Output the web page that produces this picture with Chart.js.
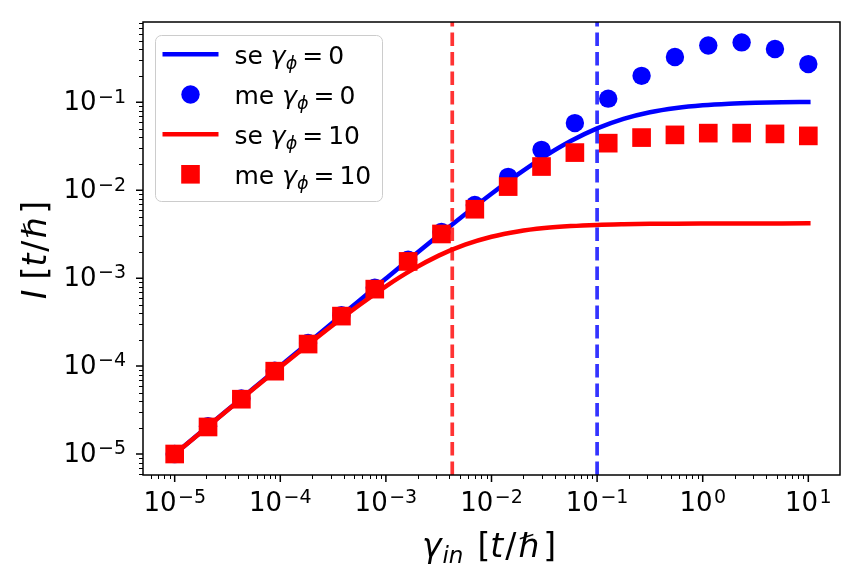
<!DOCTYPE html>
<html><head><meta charset="utf-8">
<script src="https://cdn.jsdelivr.net/npm/chart.js@4.4.1/dist/chart.umd.min.js"></script>
<style>html,body{margin:0;padding:0;background:#fff;} #wrap{width:863px;height:580px;position:relative;}</style>
</head><body><div id="wrap"><canvas id="c" width="863" height="580"></canvas></div>
<script>
// ---- data ----
const X_ME = [1.0e-5, 2.069e-5, 4.281e-5, 8.859e-5, 1.833e-4, 3.793e-4, 7.848e-4, 1.624e-3, 3.360e-3, 6.952e-3,
              1.438e-2, 2.976e-2, 6.158e-2, 0.1274, 0.2637, 0.5456, 1.129, 2.336, 4.833, 10.0];
const ME_G0 = [1.0e-5, 2.07e-5, 4.28e-5, 8.85e-5, 1.83e-4, 3.79e-4, 7.8e-4, 1.62e-3, 3.35e-3, 6.8e-3,
               1.42e-2, 2.88e-2, 5.8e-2, 0.110, 0.200, 0.327, 0.443, 0.480, 0.404, 0.272];
const ME_G10 = [1.0e-5, 2.03e-5, 4.2e-5, 8.75e-5, 1.78e-4, 3.7e-4, 7.5e-4, 1.55e-3, 3.18e-3, 6.08e-3,
                1.10e-2, 1.86e-2, 2.68e-2, 3.43e-2, 3.97e-2, 4.26e-2, 4.46e-2, 4.46e-2, 4.37e-2, 4.15e-2];
const X_SE = [1e-5, 1.778e-5, 3.162e-5, 5.623e-5, 1e-4, 1.778e-4, 3.162e-4, 5.623e-4, 1e-3, 1.778e-3,
              3.162e-3, 5.623e-3, 1e-2, 1.778e-2, 3.162e-2, 5.623e-2, 0.1, 0.1778, 0.3162, 0.5623,
              1, 1.778, 3.162, 5.623, 10];
const SE_G0 = [1.0e-5, 1.778e-5, 3.161e-5, 5.62e-5, 9.99e-5, 1.775e-4, 3.152e-4, 5.59e-4, 9.90e-4, 1.748e-3,
               3.069e-3, 5.33e-3, 9.11e-3, 1.514e-2, 2.414e-2, 3.625e-2, 5.05e-2, 6.48e-2, 7.72e-2, 8.63e-2,
               9.26e-2, 9.65e-2, 9.88e-2, 1.002e-1, 1.010e-1];
const SE_G10 = [9.98e-6, 1.77e-5, 3.14e-5, 5.55e-5, 9.77e-5, 1.706e-4, 2.94e-4, 4.96e-4, 8.08e-4, 1.249e-3,
                1.804e-3, 2.404e-3, 2.958e-3, 3.398e-3, 3.708e-3, 3.908e-3, 4.031e-3, 4.10e-3, 4.145e-3, 4.17e-3,
                4.18e-3, 4.19e-3, 4.195e-3, 4.197e-3, 4.198e-3];
const VLINE_X = [4.25e-3, 0.1];           // red dashed, blue dashed
const LABELS = ['se γϕ = 0', 'me γϕ = 0', 'se γϕ = 10', 'me γϕ = 10'];
const X_MAJOR = [1e-5, 1e-4, 1e-3, 1e-2, 1e-1, 1e0, 1e1];
const Y_MAJOR = [1e-5, 1e-4, 1e-3, 1e-2, 1e-1];
const X_TICK_EXP = ['−5', '−4', '−3', '−2', '−1', '0', '1'];
const Y_TICK_EXP = ['−5', '−4', '−3', '−2', '−1'];
const X_LIM = [Math.pow(10, -5.3), Math.pow(10, 1.3)];
const Y_LIM = [5.77e-6, 0.819];

const BLUE = '#0000ff', RED = '#ff0000';
const FONT = 'DejaVu Sans';
const pts = (xs, ys) => xs.map((x, i) => ({x, y: ys[i]}));
const minors = (lo, hi) => { const out = []; for (let e = -7; e <= 2; e++) for (let m = 2; m <= 9; m++) { const v = m * Math.pow(10, e); if (v > lo && v < hi) out.push(v); } return out; };

function richWidth(ctx, pieces) {
  let w = 0;
  pieces.forEach(p => { ctx.font = p.f; p.w = ctx.measureText(p.t).width + (p.gap || 0); w += p.w; });
  return w;
}
function drawRich(ctx, pieces, x, y, align) {
  const w = richWidth(ctx, pieces);
  let cx = align === 'right' ? x - w : (align === 'left' ? x : x - w / 2);
  pieces.forEach(p => { ctx.font = p.f; ctx.fillText(p.t, cx, y + (p.dy || 0)); cx += p.w; });
}
const tickPieces = exp => [
  {t: '10', f: `26px ${FONT}`, gap: 1.5},
  {t: exp, f: `19px ${FONT}`, dy: -7.7}
];

const decor = {
  id: 'decor',
  afterDatasetsDraw(chart) {
    const ctx = chart.ctx, a = chart.chartArea, sx = chart.scales.x, sy = chart.scales.y;
    ctx.save();
    ctx.strokeStyle = '#000';
    // minor ticks
    ctx.lineWidth = 1;
    ctx.beginPath();
    minors(X_LIM[0], X_LIM[1]).forEach(v => { const px = Math.round(sx.getPixelForValue(v)) + 0.5; ctx.moveTo(px, a.bottom); ctx.lineTo(px, a.bottom + 4); });
    minors(Y_LIM[0], Y_LIM[1]).forEach(v => { const py = Math.round(sy.getPixelForValue(v)) + 0.5; ctx.moveTo(a.left, py); ctx.lineTo(a.left - 4, py); });
    ctx.stroke();
    // major ticks
    ctx.lineWidth = 1.5;
    ctx.beginPath();
    X_MAJOR.forEach(v => { const px = sx.getPixelForValue(v); ctx.moveTo(px, a.bottom); ctx.lineTo(px, a.bottom + 7); });
    Y_MAJOR.forEach(v => { const py = sy.getPixelForValue(v); ctx.moveTo(a.left, py); ctx.lineTo(a.left - 7, py); });
    ctx.stroke();
    // frame
    ctx.strokeRect(a.left, a.top, a.right - a.left, a.bottom - a.top);
    // tick labels
    ctx.fillStyle = '#000'; ctx.textBaseline = 'alphabetic';
    X_MAJOR.forEach((v, i) => drawRich(ctx, tickPieces(X_TICK_EXP[i]), sx.getPixelForValue(v), a.bottom + 36, 'center'));
    Y_MAJOR.forEach((v, i) => drawRich(ctx, tickPieces(Y_TICK_EXP[i]), a.left - 17, sy.getPixelForValue(v) + 8, 'right'));
    ctx.restore();
  },
  afterDraw(chart) {
    const ctx = chart.ctx;
    ctx.save();
    ctx.fillStyle = '#000'; ctx.textBaseline = 'alphabetic';
    const S = 33;
    // x title
    drawRich(ctx, [
      {t: 'γ', f: `italic ${S}px ${FONT}`, gap: 1},
      {t: 'in', f: `italic 23px ${FONT}`, dy: 6, gap: 14},
      {t: '[', f: `${S}px ${FONT}`},
      {t: 't', f: `italic ${S}px ${FONT}`, gap: 2},
      {t: '/', f: `${S}px ${FONT}`, gap: 2},
      {t: 'ℏ', f: `${S}px ${FONT}`, gap: 4},
      {t: ']', f: `${S}px ${FONT}`}
    ], 489, 557, 'center');
    // y title
    ctx.save();
    ctx.translate(46, 250);
    ctx.rotate(-Math.PI / 2);
    drawRich(ctx, [
      {t: 'I', f: `italic ${S}px ${FONT}`, gap: 10},
      {t: '[', f: `${S}px ${FONT}`},
      {t: 't', f: `italic ${S}px ${FONT}`, gap: 2},
      {t: '/', f: `${S}px ${FONT}`, gap: 2},
      {t: 'ℏ', f: `${S}px ${FONT}`, gap: 4},
      {t: ']', f: `${S}px ${FONT}`}
    ], 0, 0, 'center');
    ctx.restore();
    // legend
    ctx.beginPath();
    ctx.roundRect(155.5, 35.5, 227, 166, 6);
    ctx.fillStyle = 'rgba(255,255,255,0.8)'; ctx.fill();
    ctx.strokeStyle = '#cccccc'; ctx.lineWidth = 1; ctx.stroke();
    const rows = [54.3, 94.5, 134.3, 174.3];
    const ds = chart.data.datasets;
    for (let i = 0; i < 4; i++) {
      const y = rows[i], d = ds[i];
      if (i % 2 === 0) {
        ctx.strokeStyle = d.borderColor; ctx.lineWidth = 4.5; ctx.lineCap = 'butt';
        ctx.beginPath(); ctx.moveTo(162.5, y); ctx.lineTo(218.5, y); ctx.stroke();
      } else if (i === 1) {
        ctx.fillStyle = d.backgroundColor; ctx.beginPath(); ctx.arc(190.5, y, 9.2, 0, Math.PI * 2); ctx.fill();
      } else {
        ctx.fillStyle = d.backgroundColor; ctx.fillRect(190.5 - 9.3, y - 9.3, 18.6, 18.6);
      }
      const parts = LABELS[i].split(' ');   // ['se','γϕ','=','0']
      ctx.fillStyle = '#000';
      drawRich(ctx, [
        {t: parts[0] + ' ', f: `25px ${FONT}`},
        {t: 'γ', f: `italic 25px ${FONT}`},
        {t: 'ϕ', f: `italic 17.5px ${FONT}`, dy: 5, gap: 5},
        {t: '=', f: `25px ${FONT}`, gap: 5},
        {t: parts[3], f: `25px ${FONT}`}
      ], 234.5, y + 9.5, 'left');
    }
    ctx.restore();
  }
};

new Chart(document.getElementById('c'), {
  type: 'scatter',
  data: {
    datasets: [
      {label: LABELS[0], data: pts(X_SE, SE_G0), showLine: true, borderColor: BLUE, backgroundColor: BLUE, borderWidth: 4.5, pointRadius: 0, borderCapStyle: 'square', cubicInterpolationMode: 'monotone', order: 5},
      {label: LABELS[1], data: pts(X_ME, ME_G0), showLine: false, backgroundColor: BLUE, borderColor: BLUE, pointStyle: 'circle', pointRadius: 9.2, pointBorderWidth: 0, order: 4},
      {label: LABELS[2], data: pts(X_SE, SE_G10), showLine: true, borderColor: RED, backgroundColor: RED, borderWidth: 4.5, pointRadius: 0, borderCapStyle: 'square', cubicInterpolationMode: 'monotone', order: 3},
      {label: LABELS[3], data: pts(X_ME, ME_G10), showLine: false, backgroundColor: RED, borderColor: RED, pointStyle: 'rect', pointRadius: 13.2, pointBorderWidth: 0, order: 2},
      {label: 'vline1', data: [{x: VLINE_X[0], y: Y_LIM[0]}, {x: VLINE_X[0], y: Y_LIM[1]}], showLine: true, borderColor: 'rgba(255,0,0,0.8)', borderWidth: 3.7, borderDash: [13.5, 6], pointRadius: 0, order: 1},
      {label: 'vline2', data: [{x: VLINE_X[1], y: Y_LIM[0]}, {x: VLINE_X[1], y: Y_LIM[1]}], showLine: true, borderColor: 'rgba(0,0,255,0.8)', borderWidth: 3.7, borderDash: [13.5, 6], pointRadius: 0, order: 1}
    ]
  },
  options: {
    responsive: false, animation: false, devicePixelRatio: 1,
    layout: {padding: {top: 22, right: 23, left: 0, bottom: 0}},
    plugins: {legend: {display: false}, tooltip: {enabled: false}},
    scales: {
      x: {
        type: 'logarithmic', min: X_LIM[0], max: X_LIM[1],
        afterFit: s => { s.height = 105; },
        ticks: {display: false},
        grid: {display: false},
        border: {display: false}
      },
      y: {
        type: 'logarithmic', min: Y_LIM[0], max: Y_LIM[1],
        afterFit: s => { s.width = 143; },
        ticks: {display: false},
        grid: {display: false},
        border: {display: false}
      }
    }
  },
  plugins: [decor]
});
</script>
</body></html>
